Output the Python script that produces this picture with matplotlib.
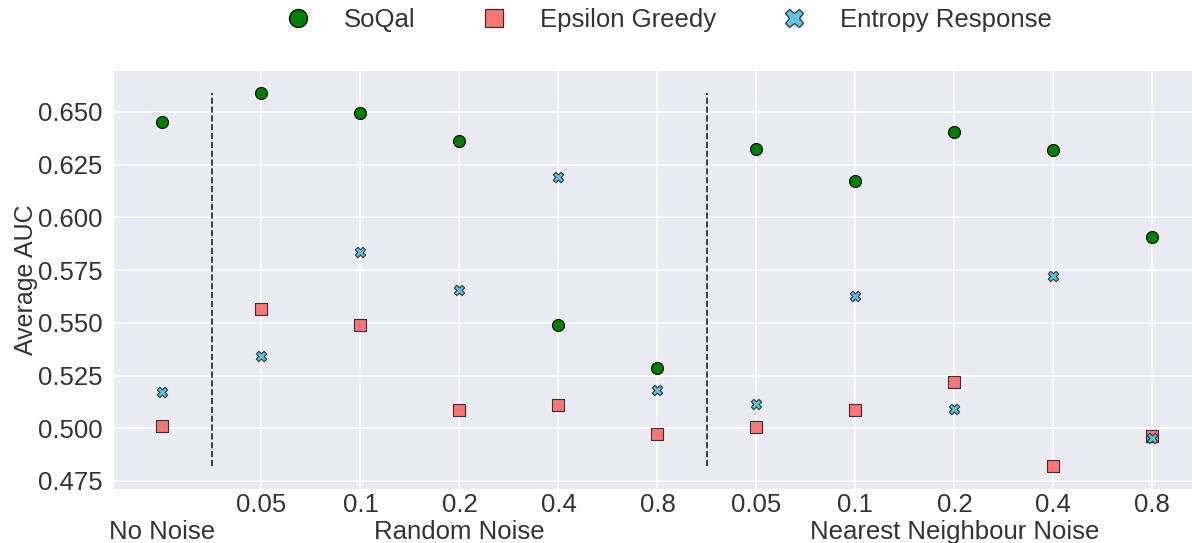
import matplotlib
matplotlib.use("Agg")
import matplotlib.pyplot as plt
from matplotlib.lines import Line2D
import seaborn as sns
import numpy as np

sns.set_style("darkgrid")
plt.rcParams['font.family'] = ['Liberation Sans', 'DejaVu Sans']

noise_levels = ["", "0.05", "0.1", "0.2", "0.4", "0.8", "0.05", "0.1", "0.2", "0.4", "0.8"]
group_labels = ["No Noise", "Random Noise", "Nearest Neighbour Noise"]
group_positions = [0, 3, 8]
separators = [0.5, 5.5]
series_names = ["SoQal", "Epsilon Greedy", "Entropy Response"]

soqal = [0.6452, 0.6592, 0.6497, 0.6364, 0.5490, 0.5285, 0.6326, 0.6174, 0.6406, 0.6321, 0.5908]
epsilon = [0.5011, 0.5567, 0.5490, 0.5086, 0.5110, 0.4972, 0.5006, 0.5086, 0.5220, 0.4819, 0.4964]
entropy = [0.5170, 0.5341, 0.5838, 0.5656, 0.6193, 0.5181, 0.5114, 0.5628, 0.5091, 0.5723, 0.4953]

styles = [
    dict(marker='o', color='#008000', edgecolor='black', s=74),
    dict(marker='s', color='#fa7676', edgecolor='#333333', s=85),
    dict(marker='X', color='#5ec4e6', edgecolor='#333333', s=55),
]

fig = plt.figure(figsize=(11.92, 5.43), dpi=100)
ax = fig.add_axes([0.0948, 1 - 489 / 543, 0.9052, (489 - 70) / 543])

x = np.arange(len(noise_levels))
handles = []
for vals, name, st, z in zip([soqal, epsilon, entropy], series_names, styles, [3, 3, 4]):
    ax.scatter(x, vals, s=st['s'], marker=st['marker'], color=st['color'],
               edgecolor=st['edgecolor'], linewidth=0.8, label=name, zorder=z)
    handles.append(Line2D([], [], linestyle='none', marker=st['marker'], markersize=13,
                          markerfacecolor=st['color'], markeredgecolor=st['edgecolor'],
                          markeredgewidth=0.9, label=name))

all_vals = soqal + epsilon + entropy
ax.vlines(separators, min(all_vals), max(all_vals), colors='#222222', linestyles='--', linewidth=1.2, zorder=2)

ax.set_xlim(-0.5, 10.4)
ax.set_ylim(0.4712, 0.6699)
ax.set_yticks([0.475, 0.5, 0.525, 0.55, 0.575, 0.6, 0.625, 0.65])
ax.set_yticklabels(["0.475", "0.500", "0.525", "0.550", "0.575", "0.600", "0.625", "0.650"])
ax.tick_params(axis='y', labelsize=18.5, colors='#333333', pad=4)

ax.xaxis.remove_overlapping_locs = False
ax.set_xticks(x[1:])
ax.set_xticklabels(noise_levels[1:])
ax.set_xticks(group_positions, minor=True)
ax.set_xticklabels(group_labels, minor=True)
ax.tick_params(axis='x', which='major', labelsize=18.5, colors='#333333', pad=2.9, length=0)
ax.tick_params(axis='x', which='minor', labelsize=18.5, colors='#333333', pad=22.3, length=0)
ax.grid(True, which='major', color='white', linewidth=1.2)
ax.grid(False, which='minor')

ax.set_ylabel("Average AUC", fontsize=18, color='#333333')
ax.yaxis.set_label_coords(-0.0695, 0.5)

fig.legend(handles=handles, loc='center', bbox_to_anchor=(0.561, 1 - 20 / 543), ncol=3, frameon=False,
           fontsize=18.5, handlelength=1.0, columnspacing=2.55, handletextpad=1.29, labelcolor='#333333')

fig.savefig("out.png", dpi=100)
